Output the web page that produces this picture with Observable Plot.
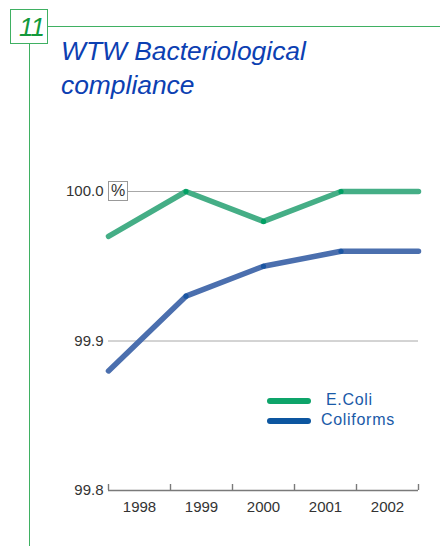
<!DOCTYPE html>
<html>
<head>
<meta charset="utf-8">
<script src="https://cdn.jsdelivr.net/npm/d3@7"></script>
<script src="https://cdn.jsdelivr.net/npm/@observablehq/plot@0.6"></script>
<style>
  html, body { margin: 0; padding: 0; background: #fff; }
  #wrap { position: relative; width: 440px; height: 546px; overflow: hidden; font-family: "Liberation Sans", Arial, sans-serif; }
  #wrap svg { position: absolute; left: 0; top: 0; }
  .abs { position: absolute; }
</style>
</head>
<body>
<div id="wrap">
  <div class="abs" style="left:48px;top:26px;width:392px;height:0;border-top:1.5px solid #3fb062;"></div>
  <div class="abs" style="left:29px;top:44px;width:0;height:502px;border-left:1.5px solid #3fb062;"></div>
  <div class="abs" style="left:10px;top:9px;width:36px;height:33px;border:1.5px solid #3fb062;background:#fff;"></div>
  <div class="abs" style="left:19px;top:12px;font-size:26px;font-style:italic;color:#139a3c;line-height:30px;letter-spacing:-1px;">11</div>
  <div class="abs" style="left:61px;top:35px;font-size:26.4px;font-style:italic;color:#0c40b2;line-height:33.5px;">WTW Bacteriological<br>compliance</div>
</div>
<script>
const years = ["1998", "1999", "2000", "2001", "2002"];
const ecoli = [99.97, 100.0, 99.98, 100.0, 100.0];
const coliforms = [99.88, 99.93, 99.95, 99.96, 99.96];
const yTicks = [99.8, 99.9, 100.0];
const seriesNames = ["E.Coli", "Coliforms"];
const lineColors = ["#45ae86", "#4b6fae"];
const dotColors = ["#00a064", "#1a56a3"];
const legendColors = ["#0ea46a", "#0d56a0"];

const n = years.length;
const bandW = (n - 1) / n; // band width of year labels in point units
const bandEdges = d3.range(n + 1).map(i => i * bandW);
const bandMids = d3.range(n).map(i => (i + 0.5) * bandW);

const data = [];
years.forEach((y, i) => {
  data.push({series: seriesNames[0], i, value: ecoli[i]});
  data.push({series: seriesNames[1], i, value: coliforms[i]});
});
const inner = data.filter(d => d.i > 0 && d.i < n - 1);

const font = "'Liberation Sans', Arial, sans-serif";

const chart = Plot.plot({
  width: 440,
  height: 546,
  marginLeft: 108,
  marginRight: 22,
  marginTop: 191,
  marginBottom: 56,
  style: {fontFamily: font, fontSize: "15px", color: "#333", background: "transparent", overflow: "visible"},
  x: {domain: [0, n - 1], axis: null, label: null},
  y: {domain: [99.8, 100.0], axis: null, label: null},
  color: {domain: seriesNames, range: lineColors},
  marks: [
    Plot.ruleY(yTicks.slice(1), {x1: 0, x2: n - 1, stroke: "#a8a8a8", strokeWidth: 1}),
    Plot.ruleY([yTicks[0]], {x1: 0, x2: n - 1, stroke: "#7a7a7a", strokeWidth: 1.6}),
    Plot.axisX({ticks: bandEdges, tickSize: -6, tickFormat: () => "", label: null, stroke: "#7a7a7a", strokeWidth: 1.4}),
    Plot.axisX({ticks: bandMids, tickSize: 0, tickPadding: 11, fontSize: 15, label: null,
      tickFormat: d => years[Math.round(d / bandW - 0.5)], fill: "#333", style: {letterSpacing: "0.4px"}}),
    Plot.axisY({ticks: yTicks, tickSize: 0, tickPadding: 5, fontSize: 15, tickFormat: d3.format(".1f"), label: null,
      fill: "#333", style: {letterSpacing: "0.4px"}}),
    Plot.line(data, {x: "i", y: "value", z: "series", stroke: "series", strokeWidth: 5.5,
      strokeLinecap: "round", strokeLinejoin: "round"}),
    Plot.dot(inner, {x: "i", y: "value", r: 2.6, fill: d => dotColors[seriesNames.indexOf(d.series)], stroke: "none"})
  ]
});
const wrap = document.getElementById("wrap");
wrap.insertBefore(chart, wrap.firstChild);

// unit box for the y axis
const unit = document.createElement("div");
unit.className = "abs";
unit.style.cssText = "left:108px;top:181px;width:18px;height:18px;border:1px solid #999;background:#fff;font-size:16px;line-height:18px;text-align:center;color:#333;";
unit.textContent = "%";
wrap.appendChild(unit);

// legend
const legendTop = [401, 421];
const legendTextLeft = [326, 321];
seriesNames.forEach((name, k) => {
  const sw = document.createElement("div");
  sw.className = "abs";
  sw.style.cssText = `left:267px;top:${legendTop[k] - 3}px;width:44px;height:6px;border-radius:3px;background:${legendColors[k]};`;
  wrap.appendChild(sw);
  const t = document.createElement("div");
  t.className = "abs";
  t.style.cssText = `left:${legendTextLeft[k]}px;top:${legendTop[k] - 11}px;font-size:16px;line-height:20px;letter-spacing:0.7px;color:#1a5aa8;`;
  t.textContent = name;
  wrap.appendChild(t);
});
</script>
</body>
</html>
